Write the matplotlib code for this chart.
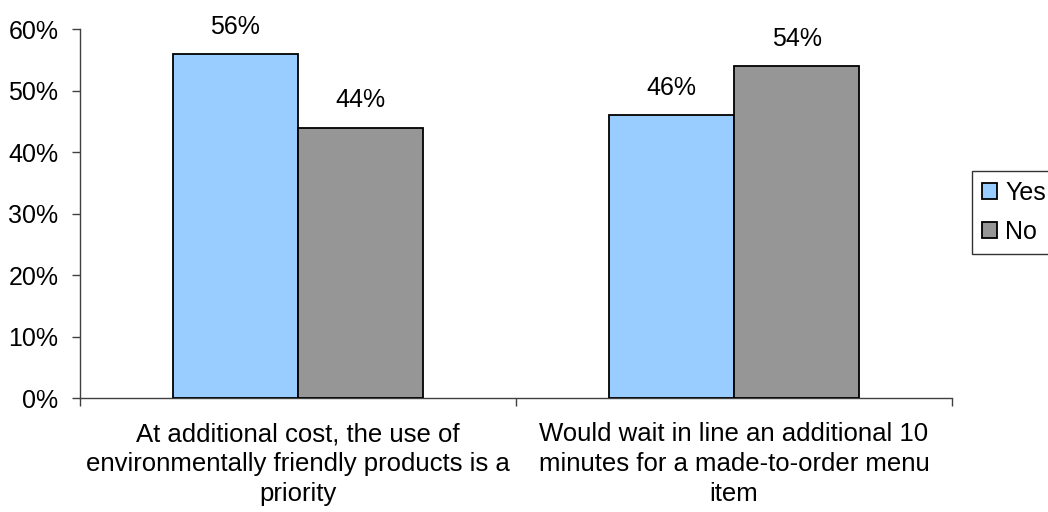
import numpy as np
import matplotlib.pyplot as plt
from matplotlib.ticker import FuncFormatter, FixedLocator

plt.rcParams['font.family'] = ['Liberation Sans', 'DejaVu Sans']

categorias = ["At additional cost, the use of\nenvironmentally friendly products is a\npriority",
              "Would wait in line an additional 10\nminutes for a made-to-order menu\nitem"]
si = [56, 46]
no = [44, 54]
series = ["Yes", "No"]
colores = ["#99CCFF", "#969696"]

fig = plt.figure(figsize=(10.48, 5.12), dpi=100)
ax = fig.add_axes([0.0763, 0.2217, 0.8321, 0.7213])

x = np.arange(len(categorias))
ancho = 0.287
for k, (vals, nombre, c) in enumerate(zip([si, no], series, colores)):
    pos = x + (k - 0.5) * ancho
    ax.bar(pos, vals, ancho, color=c, edgecolor="black",
           linewidth=1.3, label=nombre, zorder=3)
    for xi, v in zip(pos, vals):
        ax.annotate(f"{v}%", (xi, v), xytext=(0, 11), textcoords="offset points",
                    ha="center", va="bottom", fontsize=18)

ax.set_xlim(-0.5, 1.5)
ax.set_ylim(0, 60)
ax.set_yticks(np.arange(0, 61, 10))
ax.yaxis.set_major_formatter(FuncFormatter(lambda v, p: f"{v:.0f}%"))
ax.tick_params(axis="y", length=5.5, width=1, color="#404040", labelsize=18, pad=10)

# separadores entre categorias como ticks mayores, etiquetas en los menores
ax.xaxis.set_major_locator(FixedLocator([-0.5, 0.5, 1.5]))
ax.xaxis.set_major_formatter(FuncFormatter(lambda v, p: ""))
ax.xaxis.set_minor_locator(FixedLocator(x))
ax.set_xticklabels(categorias, minor=True)
ax.tick_params(axis="x", which="major", length=6, width=1, color="#404040")
ax.tick_params(axis="x", which="minor", length=0, labelsize=18.5, pad=17)
for t in ax.get_xticklabels(minor=True):
    t.set_linespacing(1.3)

for s in ["top", "right"]:
    ax.spines[s].set_visible(False)
for s in ["left", "bottom"]:
    ax.spines[s].set_color("#404040")
    ax.spines[s].set_linewidth(1)

leg = fig.legend(loc="upper left", bbox_to_anchor=(0.9275, 1 - 171 / 512), fontsize=18,
                 frameon=True, fancybox=False, edgecolor="black", handlelength=0.6,
                 handleheight=0.6, handletextpad=0.32, borderpad=0.4, labelspacing=0.6,
                 borderaxespad=0)
leg.get_frame().set_linewidth(1)

fig.savefig("out.png", dpi=100)
